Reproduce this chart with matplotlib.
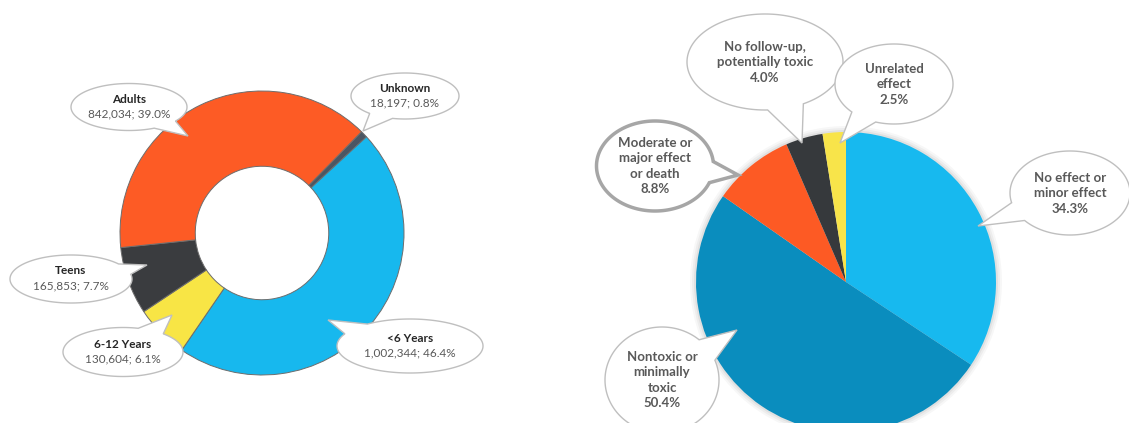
import numpy as np
import matplotlib
matplotlib.use("Agg")
import matplotlib.pyplot as plt
from matplotlib.patches import Polygon

plt.rcParams['font.family'] = ['Lato', 'DejaVu Sans']

# left donut: age groups (clockwise from the top-right)
age_names = ['Unknown', '<6 Years', '6-12 Years', 'Teens', 'Adults']
age_counts = [18197, 1002344, 130604, 165853, 842034]
age_pcts = [0.8, 46.4, 6.1, 7.7, 39.0]
age_colors = ['#4b5663', '#17b8ee', '#f8e545', '#3a3c3f', '#fd5b25']

# right pie: outcomes (clockwise from 12 o'clock)
out_names = ['No effect or\nminor effect', 'Nontoxic or\nminimally\ntoxic',
             'Moderate or\nmajor effect\nor death', 'No follow-up,\npotentially toxic',
             'Unrelated\neffect']
out_pcts = [34.3, 50.4, 8.8, 4.0, 2.5]
out_colors = ['#17b9ef', '#0a8dbe', '#fd5a24', '#36393c', '#f8e44a']

W, H = 1129, 423
fig = plt.figure(figsize=(W / 100, H / 100), dpi=100)
ax = fig.add_axes([0, 0, 1, 1])
ax.set_xlim(0, W)
ax.set_ylim(0, H)
ax.set_aspect('equal')
ax.axis('off')


def py(y):
    # pixel-from-top -> data y
    return H - y


# donut
R1 = 142
ax.pie(age_pcts, colors=age_colors, startangle=45.5, counterclock=False,
       center=(262, py(233)), radius=R1,
       wedgeprops=dict(width=R1 * 0.53, edgecolor='#6d6d6d', linewidth=0.7))

# pie, with a soft shadow
R2 = 150
cpie = (846, py(282))
for k, a in [(6, 0.03), (4, 0.04), (2, 0.05)]:
    ax.add_patch(plt.Circle(cpie, R2 + k, color='k', alpha=a, lw=0))
ax.pie(out_pcts, colors=out_colors, startangle=90, counterclock=False,
       center=cpie, radius=R2, wedgeprops=dict(linewidth=0))

ax.set_xlim(0, W)
ax.set_ylim(0, H)


def bubble(cx, cy, w, h, tip, ec='#bfbfbf', lw=1.0, spread=0.24):
    cy = py(cy)
    tx, ty = tip[0], py(tip[1])
    a, b = w / 2, h / 2
    th = np.arctan2((ty - cy) / b, (tx - cx) / a)
    t = np.linspace(th + spread, th + 2 * np.pi - spread, 300)
    pts = list(zip(cx + a * np.cos(t), cy + b * np.sin(t)))
    pts.append((tx, ty))
    ax.add_patch(Polygon(pts, closed=True, facecolor='white', edgecolor=ec,
                         lw=lw, zorder=5))


# left callouts: (center x, center y, w, h, tip)
left_boxes = [
    (405, 96, 108, 46, (363, 131)),
    (410, 346, 146, 54, (328, 320)),
    (123, 352, 120, 49, (172, 315)),
    (71, 279, 122, 48, (147, 265)),
    (129, 107, 116, 47, (188, 136)),
]
for (cx, cy, w, h, tip), name, cnt, pct in zip(left_boxes, age_names, age_counts, age_pcts):
    bubble(cx, cy, w, h, tip)
    ax.text(cx, py(cy - 8), name, ha='center', va='center', fontsize=8.5,
            fontweight='bold', color='#262626', zorder=6)
    ax.text(cx, py(cy + 7), f'{cnt:,}; {pct:.1f}%', ha='center', va='center',
            fontsize=8.5, color='#595959', zorder=6)

# right callouts
right_boxes = [
    (1070, 193, 120, 84, (978, 226)),
    (662, 380, 114, 106, (737, 330)),
    (655, 166, 117, 90, (738, 175)),
    (765, 62, 156, 96, (802, 143)),
    (894, 84, 118, 80, (840, 143)),
]
for i, ((cx, cy, w, h, tip), name, pct) in enumerate(zip(right_boxes, out_names, out_pcts)):
    if i == 2:
        bubble(cx, cy, w, h, tip, ec='#a6a6a6', lw=2.5)
    else:
        bubble(cx, cy, w, h, tip)
    ax.text(cx, py(cy), f'{name}\n{pct:.1f}%', ha='center', va='center',
            fontsize=9.5, fontweight='bold', color='#595959', linespacing=1.35,
            zorder=6)

fig.savefig('out.png', dpi=100)
